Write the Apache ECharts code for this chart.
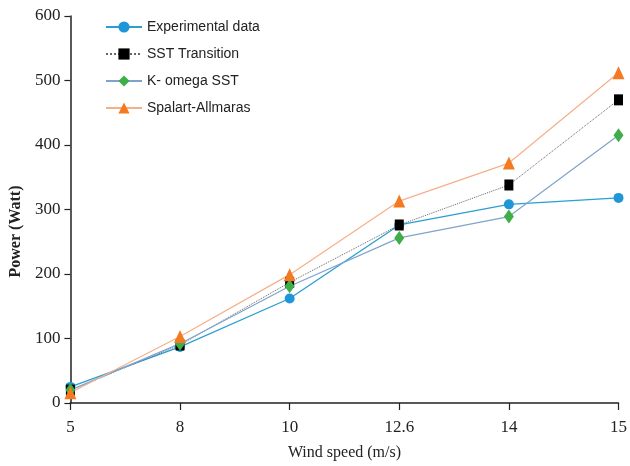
<!DOCTYPE html>
<html><head><meta charset="utf-8">
<script src="https://cdn.jsdelivr.net/npm/echarts@6/dist/echarts.min.js"></script>
<style>html,body{margin:0;padding:0;background:#fff}#c{width:630px;height:466px}</style>
</head><body><div id="c"></div>
<script>
const categories = ['5', '8', '10', '12.6', '14', '15'];
const experimental = [25, 87, 162, 276, 308, 318];
const sstTransition = [20, 90, 187, 276, 338, 470];
const kOmegaSST = [20, 92, 181, 256, 289, 415];
const spalartAllmaras = [16, 103, 199, 313, 372, 512];
const yTicks = [0, 100, 200, 300, 400, 500, 600];

const chart = echarts.init(document.getElementById('c'));
const serif = '"Liberation Serif", "DejaVu Serif", serif';
const sans = '"Liberation Sans", Arial, sans-serif';
chart.setOption({
  animation: false,
  backgroundColor: '#fff',
  grid: {left: 66, right: 10, top: 16, bottom: 61, containLabel: false},
  legend: {
    orient: 'vertical', left: 100, top: 15, itemGap: 13, itemWidth: 36, itemHeight: 14,
    textStyle: {fontFamily: sans, fontSize: 14, color: '#222'},
    data: ['Experimental data', 'SST Transition', 'K- omega SST', 'Spalart-Allmaras']
  },
  xAxis: {
    type: 'category', data: categories, boundaryGap: false,
    name: 'Wind speed (m/s)', nameLocation: 'middle', nameGap: 42,
    nameTextStyle: {fontFamily: serif, fontSize: 16, color: '#222'},
    axisLine: {lineStyle: {color: '#222', width: 1.5}},
    axisTick: {length: 7, lineStyle: {color: '#222', width: 1.2}},
    axisLabel: {fontFamily: serif, fontSize: 17, color: '#222', margin: 16},
    splitLine: {show: false}
  },
  yAxis: {
    type: 'value', min: yTicks[0], max: yTicks[yTicks.length - 1], interval: 100,
    name: 'Power (Watt)', nameLocation: 'middle', nameGap: 42,
    nameTextStyle: {fontFamily: serif, fontSize: 16, fontWeight: 'bold', color: '#222', padding: [0, 44, 0, 0]},
    axisLine: {show: true, lineStyle: {color: '#222', width: 1.5}},
    axisTick: {show: true, length: 6, lineStyle: {color: '#222', width: 1.2}},
    axisLabel: {fontFamily: serif, fontSize: 17, color: '#222', margin: 10},
    splitLine: {show: false}
  },
  series: [
    {name: 'Experimental data', type: 'line', data: experimental,
     symbol: 'circle', symbolSize: 10,
     itemStyle: {color: '#1e96d8'}, lineStyle: {color: '#2a9fd0', width: 1.3}},
    {name: 'SST Transition', type: 'line', data: sstTransition,
     symbol: 'rect', symbolSize: [9, 11],
     itemStyle: {color: '#000'}, lineStyle: {color: '#666', width: 1, type: 'dotted'}},
    {name: 'K- omega SST', type: 'line', data: kOmegaSST,
     symbol: 'diamond', symbolSize: [10, 14],
     itemStyle: {color: '#3fae49'}, lineStyle: {color: '#7fa4cc', width: 1.2}},
    {name: 'Spalart-Allmaras', type: 'line', data: spalartAllmaras,
     symbol: 'triangle', symbolSize: [12, 13],
     itemStyle: {color: '#f47a22'}, lineStyle: {color: '#f5b08a', width: 1.2}}
  ]
});
</script></body></html>
